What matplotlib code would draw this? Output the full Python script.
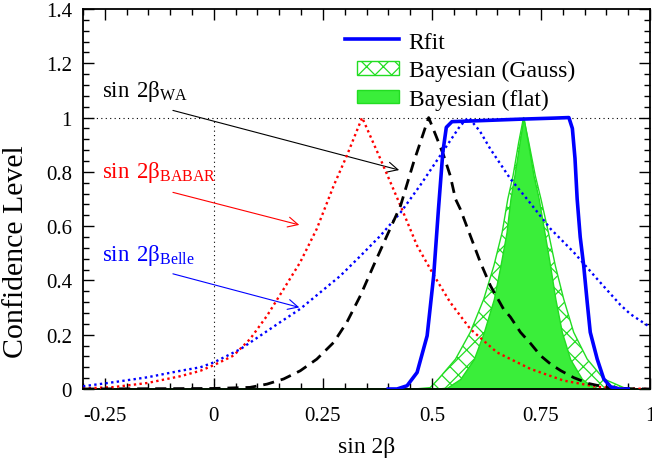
import matplotlib
matplotlib.use("Agg")
import matplotlib.pyplot as plt
from matplotlib.ticker import MultipleLocator
from matplotlib.patches import Patch, Rectangle
from matplotlib.lines import Line2D
from matplotlib.legend_handler import HandlerPatch

plt.rcParams['font.family'] = ['Liberation Serif', 'DejaVu Serif']
plt.rcParams['mathtext.fontset'] = 'custom'
plt.rcParams['mathtext.rm'] = 'Liberation Serif'
plt.rcParams['hatch.linewidth'] = 0.9

# values
babar_x = [-0.30, -0.23, -0.153, -0.077, -0.031, 0.0, 0.045, 0.083, 0.122, 0.160, 0.198, 0.236,
           0.275, 0.305, 0.34, 0.382, 0.428, 0.466, 0.504, 0.542, 0.588, 0.649, 0.726, 0.802,
           0.879, 0.95, 1.0]
babar_y = [0.002, 0.007, 0.022, 0.047, 0.067, 0.088, 0.123, 0.184, 0.27, 0.368, 0.467, 0.59,
           0.75, 0.86, 1.0, 0.847, 0.675, 0.528, 0.42, 0.319, 0.221, 0.135, 0.074, 0.031,
           0.008, 0.002, 0.0]

belle_x = [-0.30, -0.23, -0.153, -0.077, -0.031, 0.0, 0.015, 0.061, 0.106, 0.152, 0.198, 0.244,
           0.29, 0.336, 0.382, 0.428, 0.473, 0.519, 0.565, 0.584, 0.61, 0.634, 0.68, 0.718,
           0.772, 0.825, 0.879, 0.932, 0.955, 1.0]
belle_y = [0.01, 0.025, 0.043, 0.067, 0.08, 0.098, 0.11, 0.147, 0.196, 0.246, 0.295, 0.356,
           0.417, 0.49, 0.565, 0.65, 0.75, 0.86, 0.97, 1.0, 0.95, 0.884, 0.774, 0.70,
           0.59, 0.504, 0.405, 0.31, 0.276, 0.228]

wa_x = [-0.30, 0.0, 0.083, 0.122, 0.160, 0.198, 0.236, 0.275, 0.305, 0.336, 0.366, 0.397,
        0.428, 0.458, 0.4925, 0.51, 0.527, 0.542, 0.554, 0.565, 0.588, 0.611, 0.634, 0.664,
        0.68, 0.703, 0.726, 0.749, 0.772, 0.795, 0.825, 0.86, 0.90, 0.95, 1.0]
wa_y = [0.0, 0.002, 0.006, 0.018, 0.037, 0.067, 0.11, 0.172, 0.246, 0.344, 0.454, 0.565,
        0.675, 0.835, 1.0, 0.93, 0.86, 0.786, 0.70, 0.663, 0.565, 0.467, 0.381, 0.295,
        0.265, 0.209, 0.168, 0.123, 0.092, 0.068, 0.042, 0.02, 0.006, 0.001, 0.0]

rfit_x = [0.40, 0.42, 0.443, 0.466, 0.489, 0.504, 0.515, 0.525, 0.533, 0.546, 0.60, 0.70,
          0.78, 0.814, 0.822, 0.828, 0.833, 0.84, 0.848, 0.856, 0.863, 0.879, 0.894, 0.91,
          0.93, 0.95]
rfit_y = [0.0, 0.0, 0.012, 0.061, 0.196, 0.417, 0.663, 0.872, 0.964, 0.985, 0.988, 0.994,
          0.998, 1.0, 0.96, 0.85, 0.70, 0.56, 0.454, 0.32, 0.209, 0.11, 0.037, 0.008,
          0.0, 0.0]

gauss_x = [-0.30, 0.46, 0.496, 0.515, 0.554, 0.588, 0.619, 0.642, 0.661, 0.674, 0.686, 0.699,
           0.71, 0.722, 0.737, 0.750, 0.767, 0.783, 0.802, 0.825, 0.856, 0.894, 0.94, 0.97, 1.0]
gauss_y = [0.0, 0.0, 0.005, 0.037, 0.11, 0.209, 0.332, 0.454, 0.577, 0.70, 0.786, 0.909,
           1.0, 0.909, 0.786, 0.70, 0.577, 0.454, 0.332, 0.209, 0.11, 0.037, 0.005, 0.0, 0.0]

flat_x = [-0.30, 0.50, 0.535, 0.565, 0.596, 0.619, 0.642, 0.657, 0.671, 0.68, 0.689, 0.701,
          0.71, 0.72, 0.733, 0.745, 0.758, 0.771, 0.783, 0.798, 0.817, 0.844, 0.871, 0.90, 1.0]
flat_y = [0.0, 0.0, 0.005, 0.037, 0.11, 0.209, 0.332, 0.454, 0.577, 0.70, 0.786, 0.909,
          1.0, 0.909, 0.786, 0.70, 0.577, 0.454, 0.332, 0.209, 0.11, 0.037, 0.005, 0.0, 0.0]

green = '#22dd22'
flat_col = '#3aee3a'

fig = plt.figure(figsize=(6.52, 4.64), dpi=100)
ax = fig.add_axes([83 / 652, 74 / 464, 567 / 652, 380 / 464])

# Bayesian areas
ax.fill_between(gauss_x, gauss_y, 0, facecolor='white', edgecolor=green, hatch='xx',
                linewidth=1.0, zorder=1)
ax.fill_between(flat_x, flat_y, 0, facecolor=flat_col, edgecolor=green,
                linewidth=1.0, zorder=2)

# reference lines
ax.plot([-0.3, 1.0], [1, 1], color='black', lw=0.8, ls=(0, (1, 3)), zorder=3)
ax.plot([0, 0], [0, 1], color='black', lw=0.8, ls=(0, (1, 3)), zorder=3)

ax.plot(babar_x, babar_y, color='red', lw=1.7, ls=(0, (1, 1.4)), zorder=4)
ax.plot(belle_x, belle_y, color='blue', lw=1.7, ls=(0, (1, 1.4)), zorder=4)
ax.plot(wa_x, wa_y, color='black', lw=2.0, ls=(0, (4, 2.5)), zorder=5)
ax.plot(rfit_x, rfit_y, color='blue', lw=2.6, zorder=6)

# labels with arrows
ax.text(-0.257, 1.081, r'$\mathrm{sin\ 2β_{WA}}$', color='black', fontsize=16.5, va='baseline')
ax.text(-0.257, 0.78, r'$\mathrm{sin\ 2β_{BABAR}}$', color='red', fontsize=16.5, va='baseline')
ax.text(-0.257, 0.476, r'$\mathrm{sin\ 2β_{Belle}}$', color='blue', fontsize=16.5, va='baseline')
ax.annotate('', xy=(0.431, 0.804), xytext=(-0.1, 1.029),
            arrowprops=dict(arrowstyle='->', color='black', lw=0.8, mutation_scale=18))
ax.annotate('', xy=(0.202, 0.602), xytext=(-0.1, 0.727),
            arrowprops=dict(arrowstyle='->', color='red', lw=0.8, mutation_scale=18))
ax.annotate('', xy=(0.202, 0.298), xytext=(-0.1, 0.427),
            arrowprops=dict(arrowstyle='->', color='blue', lw=0.8, mutation_scale=18))

ax.set_xlim(-0.3, 1.0)
ax.set_ylim(0, 1.4)
ax.xaxis.set_minor_locator(MultipleLocator(0.05))
ax.yaxis.set_minor_locator(MultipleLocator(0.04))
ax.set_xticks([-0.25, 0, 0.25, 0.5, 0.75, 1.0])
ax.set_xticklabels(['-0.25', '0', '0.25', '0.5', '0.75', '1'])
ax.set_yticks([0, 0.2, 0.4, 0.6, 0.8, 1.0, 1.2, 1.4])
ax.set_yticklabels(['0', '0.2', '0.4', '0.6', '0.8', '1', '1.2', '1.4'])
ax.tick_params(which='both', direction='in', top=True, right=True, labelsize=15, width=1.0)
ax.tick_params(which='major', length=8)
ax.tick_params(which='minor', length=4)
ax.tick_params(axis='x', pad=12)
ax.tick_params(axis='y', pad=8)
for s in ax.spines.values():
    s.set_linewidth(1.3)

fig.text(367 / 652, 1 - 448 / 464, 'sin 2β', fontsize=17, ha='center', va='center')
fig.text(16 / 652, 1 - 252 / 464, 'Confidence Level', fontsize=21.5, ha='center', va='center',
         rotation=90)


def small_box(legend, orig_handle, xdescent, ydescent, width, height, fontsize):
    return Rectangle((-xdescent + 0.22 * width, -ydescent + 0.1 * height),
                     0.78 * width, 0.8 * height)


h_rfit = Line2D([], [], color='blue', lw=2.6)
h_gauss = Patch(facecolor='white', edgecolor=green, hatch='xx', linewidth=1.0)
h_flat = Patch(facecolor=flat_col, edgecolor=green, linewidth=1.0)
ax.legend([h_rfit, h_gauss, h_flat], ['Rfit', 'Bayesian (Gauss)', 'Bayesian (flat)'],
          loc='upper left', bbox_to_anchor=(0.462, 0.942), frameon=False, fontsize=17,
          handlelength=2.3, handletextpad=0.4, labelspacing=0.3, borderpad=0,
          borderaxespad=0, handler_map={Patch: HandlerPatch(patch_func=small_box)})

fig.savefig('out.png', dpi=100)
